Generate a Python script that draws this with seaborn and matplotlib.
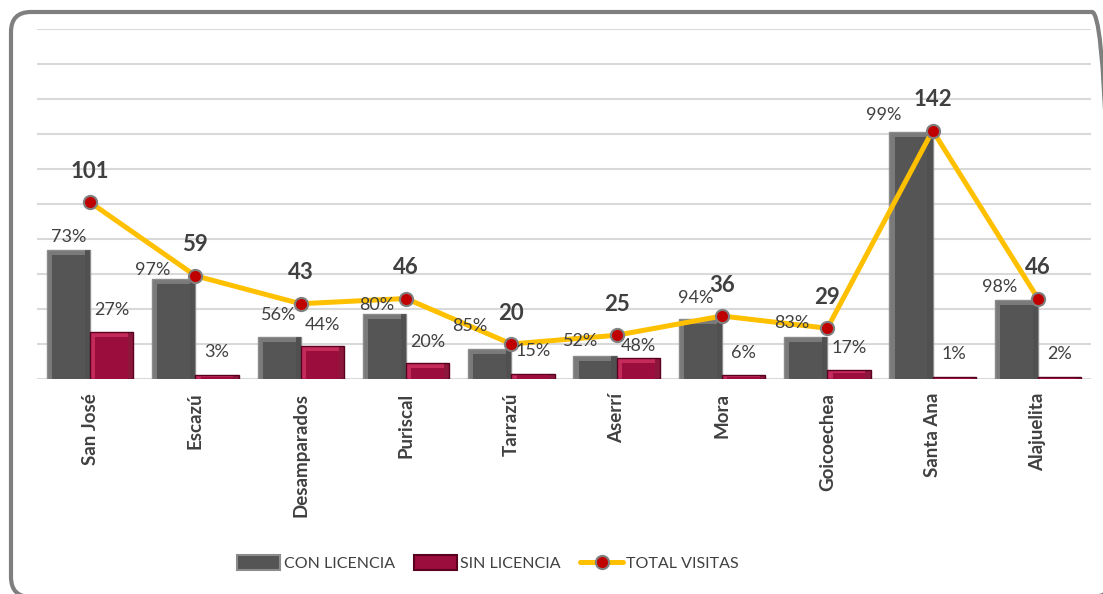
import matplotlib
matplotlib.use("Agg")
import matplotlib.pyplot as plt
import matplotlib.transforms as mtransforms
import numpy as np
import pandas as pd
import seaborn as sns
from matplotlib.lines import Line2D
from matplotlib.patches import FancyBboxPatch, Patch, Rectangle


municipios = ["San José", "Escazú", "Desamparados", "Puriscal", "Tarrazú",
              "Aserrí", "Mora", "Goicoechea", "Santa Ana", "Alajuelita"]
total_visitas = [101, 59, 43, 46, 20, 25, 36, 29, 142, 46]
con_licencia = [74, 57, 24, 37, 17, 13, 34, 24, 141, 45]
sin_licencia = [27, 2, 19, 9, 3, 12, 2, 5, 1, 1]
con_pct = [73, 97, 56, 80, 85, 52, 94, 83, 99, 98]
sin_pct = [27, 3, 44, 20, 15, 48, 6, 17, 1, 2]

# label nudges in pixels (dx, gap above bar), as placed in the original
con_nudge = [(0, 8), (-21, 4), (0, 17), (-8, 4), (-20, 18),
             (-14, 10), (-5, 16), (-14, 9), (-27, 12), (-17, 8)]
sin_gap = [17, 18, 16, 16, 18, 7, 17, 17, 18, 18]

GRAY_RIM, GRAY_FACE, GRAY_EDGE = "#7a7a7a", "#555555", "#8c8c8c"
RED_RIM, RED_FACE, RED_EDGE = "#c42a5a", "#9b0d3c", "#5a0020"
GOLD, DOT_RED = "#FFC000", "#C00000"
TEXT = "#404040"

sns.set_theme(style="white")
plt.rcParams["font.family"] = ["Lato", "DejaVu Sans"]

fig = plt.figure(figsize=(11.03, 5.94), dpi=100)
ax = fig.add_axes([0.0339, 0.362, 0.9549, 0.589])

df = pd.DataFrame({
    "municipio": municipios * 2,
    "valor": con_licencia + sin_licencia,
    "serie": ["CON LICENCIA"] * len(municipios) + ["SIN LICENCIA"] * len(municipios),
})
sns.barplot(data=df, x="municipio", y="valor", hue="serie",
            palette=[GRAY_RIM, RED_RIM], width=0.82, gap=0, saturation=1,
            legend=False, ax=ax, zorder=2)

px = 1 / 1.75  # data units per pixel on y (approx)
for cont, face, edge in zip(ax.containers, [GRAY_FACE, RED_FACE], [GRAY_EDGE, RED_EDGE]):
    for bar in cont:
        bar.set_edgecolor(edge)
        bar.set_linewidth(1.0)
        x, w, h = bar.get_x(), bar.get_width(), bar.get_height()
        inset_x = w * 0.12
        inset_y = min(5 * px, h * 0.3)
        ax.add_patch(Rectangle((x + inset_x, 0), w - 2 * inset_x, h - inset_y,
                               facecolor=face, edgecolor="none", zorder=2.5))
        ax.add_patch(Rectangle((x + w - inset_x, 0), inset_x, h,
                               facecolor="#1e1e1e" if face == GRAY_FACE else "#4a0018",
                               alpha=0.45, edgecolor="none", zorder=2.6))

sns.lineplot(x=np.arange(len(municipios)), y=total_visitas, color=GOLD, lw=3.6,
             marker="o", markersize=9.5, markerfacecolor=DOT_RED,
             markeredgecolor="#808080", markeredgewidth=1.5, ax=ax, zorder=5)

# data labels
con_bars, sin_bars = ax.containers[0], ax.containers[1]
for i, bar in enumerate(con_bars):
    dx, gap = con_nudge[i]
    ax.annotate(f"{con_pct[i]}%", (bar.get_x() + bar.get_width() / 2, bar.get_height()),
                xytext=(dx * 0.72, gap * 0.72), textcoords="offset points",
                ha="center", va="baseline", fontsize=13, color=TEXT, zorder=6)
for i, bar in enumerate(sin_bars):
    ax.annotate(f"{sin_pct[i]}%", (bar.get_x() + bar.get_width() / 2, bar.get_height()),
                xytext=(0, sin_gap[i] * 0.72), textcoords="offset points",
                ha="center", va="baseline", fontsize=13, color=TEXT, zorder=6)
for i, v in enumerate(total_visitas):
    ax.annotate(str(v), (i, v), xytext=(0, 17.5), textcoords="offset points",
                ha="center", va="baseline", fontsize=16, fontweight="bold",
                color=TEXT, zorder=6)

ax.set_xlim(-0.5, len(municipios) - 0.5)
ax.set_ylim(0, 200)
ax.set_yticks(range(0, 201, 20))
ax.set_yticklabels([])
ax.yaxis.grid(True, color="#d9d9d9", lw=1.5)
ax.set_axisbelow(True)
ax.set_xticks(range(len(municipios)))
ax.set_xticklabels(municipios, rotation=90, fontsize=13.5, fontweight="bold", color=TEXT)
ax.tick_params(axis="x", length=0, pad=10)
ax.tick_params(axis="y", length=0)
ax.set_xlabel("")
ax.set_ylabel("")
sns.despine(ax=ax, left=True, bottom=True)

handles = [
    Patch(facecolor=GRAY_FACE, edgecolor=GRAY_EDGE, lw=1.5),
    Patch(facecolor=RED_FACE, edgecolor=RED_EDGE, lw=1.5),
    Line2D([0], [0], color=GOLD, lw=3.6, marker="o", markersize=9.5,
           markerfacecolor=DOT_RED, markeredgecolor="#808080", markeredgewidth=1.5),
]
leg = fig.legend(handles, ["CON LICENCIA", "SIN LICENCIA", "TOTAL VISITAS"],
                 loc="center", bbox_to_anchor=(0.4425, 0.052), ncol=3, frameon=False,
                 fontsize=11.5, handlelength=2.7, handleheight=1.0,
                 handletextpad=0.2, columnspacing=1.2)
for t in leg.get_texts():
    t.set_color(TEXT)

frame = FancyBboxPatch((11, -3), 1101, 585, boxstyle="round,pad=0,rounding_size=20",
                       transform=mtransforms.IdentityTransform(),
                       facecolor="none", edgecolor="#7f7f7f", lw=3)
fig.add_artist(frame)

fig.savefig("out.png", dpi=100)
